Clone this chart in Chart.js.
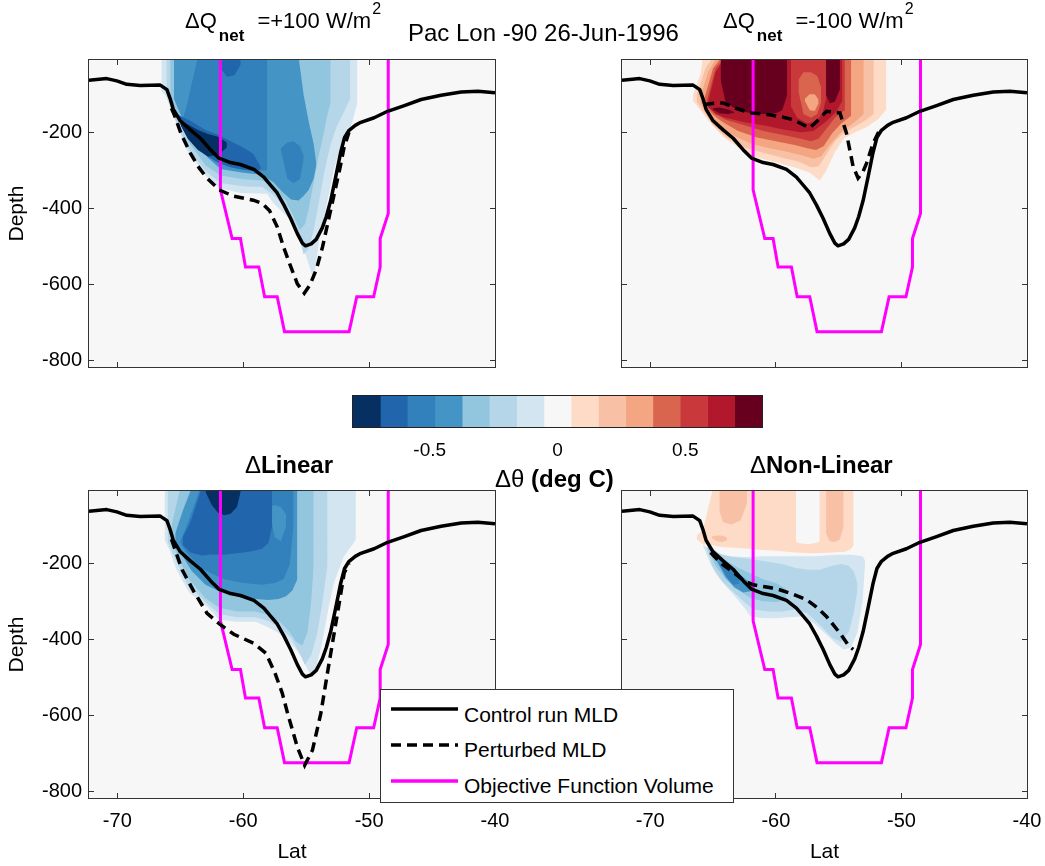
<!DOCTYPE html>
<html><head><meta charset="utf-8">
<script src="https://cdn.jsdelivr.net/npm/chart.js@4.4.1/dist/chart.umd.min.js"></script>
<style>
html,body{margin:0;padding:0;background:#fff;overflow:hidden;width:1045px;height:866px;}
canvas{position:absolute;}
.t{position:absolute;white-space:nowrap;font-family:'Liberation Sans',Arial,Helvetica,sans-serif;color:#000;line-height:1;}
</style></head><body>
<canvas id="tl" width="540" height="363" style="left:0px;top:30px"></canvas>
<canvas id="tr" width="540" height="363" style="left:533px;top:30px"></canvas>
<canvas id="bl" width="540" height="405" style="left:0px;top:461px"></canvas>
<canvas id="br" width="540" height="405" style="left:533px;top:461px"></canvas>
<canvas id="cb" width="520" height="130" style="left:300px;top:370px"></canvas>

<div class="t" style="left:185px;top:10px;font-size:22px">ΔQ<span style="font-size:17px;font-weight:bold;position:relative;top:13px;margin-left:2px;margin-right:7px">net</span> =+100 W/m<span style="font-size:16px;position:relative;top:-14px;margin-left:1px">2</span></div>
<div class="t" style="left:723px;top:10px;font-size:22px">ΔQ<span style="font-size:17px;font-weight:bold;position:relative;top:13px;margin-left:2px;margin-right:7px">net</span> =-100 W/m<span style="font-size:16px;position:relative;top:-14px;margin-left:1px">2</span></div>
<div class="t" style="left:408px;top:21px;font-size:24px">Pac Lon -90 26-Jun-1996</div>
<div class="t" style="left:245px;top:453px;font-size:24px">Δ<b>Linear</b></div>
<div class="t" style="left:750px;top:453px;font-size:24px">Δ<b>Non-Linear</b></div>
<div class="t" style="left:495px;top:467px;font-size:24px">Δθ<b> (deg C)</b></div>

<div style="position:absolute;left:380px;top:689px;width:354px;height:114px;box-sizing:border-box;border:1px solid #333;background:#fff;">
  <svg width="352" height="112" style="position:absolute;left:0;top:0">
    <line x1="10" y1="19" x2="77" y2="19" stroke="#000" stroke-width="3.5"/>
    <line x1="10" y1="55" x2="77" y2="55" stroke="#000" stroke-width="3.5" stroke-dasharray="10,6"/>
    <line x1="10" y1="91" x2="77" y2="91" stroke="#ff00ff" stroke-width="3.5"/>
  </svg>
  <div class="t" style="left:83px;top:14px;font-size:21px">Control run MLD</div>
  <div class="t" style="left:83px;top:49px;font-size:21px">Perturbed MLD</div>
  <div class="t" style="left:83px;top:85px;font-size:21px">Objective Function Volume</div>
</div>

<script>
// ---------- axis ticks ----------
const LAT_TICKS = [-70, -60, -50, -40];
const DEPTH_TICKS = [-800, -600, -400, -200];
const CBAR_TICKS = [-0.5, 0, 0.5];
const CBAR_EDGES = [-0.8,-0.693,-0.587,-0.48,-0.373,-0.267,-0.16,-0.053,0.053,0.16,0.267,0.373,0.48,0.587,0.693,0.8];
// contour level colours, levels -7 ... +7
const LEVEL_COLORS = ['#053061','#2166ac','#3280bc','#4494c6','#92c5de','#b5d6e9','#d2e5f0','#f7f7f7','#fddbc7','#f8c0a4','#f4a582','#d9654f','#c9393b','#b2182b','#67001f'];

// ---------- lines [lat, depth] ----------
const CONTROL_MLD = [[-72.25,-61],[-70.84,-57],[-70.04,-63],[-69.25,-72],[-68.18,-75],[-66.59,-74],[-66.06,-86],[-65.8,-110],[-65.55,-138],[-65.0,-168],[-64.2,-192],[-63.4,-214],[-62.61,-244],[-61.94,-266],[-61.01,-278],[-60.22,-283],[-59.15,-296],[-58.36,-316],[-57.83,-337],[-57.3,-358],[-56.76,-390],[-56.23,-425],[-55.7,-465],[-55.3,-490],[-55.05,-497],[-54.6,-492],[-54.2,-480],[-53.72,-450],[-53.4,-420],[-53.05,-378],[-52.65,-315],[-52.25,-250],[-51.95,-212],[-51.59,-193],[-51.1,-180],[-50.66,-172],[-49.6,-160],[-48.53,-143],[-47.2,-128],[-45.87,-112],[-44.28,-101],[-42.69,-92],[-41.36,-90],[-40,-94]];
const OBJ_VOLUME = [[-61.81,0],[-61.81,-350],[-60.88,-478],[-60.22,-478],[-59.82,-553],[-58.76,-553],[-58.3,-631],[-57.3,-631],[-56.72,-723],[-51.59,-723],[-50.98,-631],[-49.64,-631],[-49.12,-553],[-49.12,-478],[-48.48,-412],[-48.48,0]];
const PERT_TL = [[-65.7,-135],[-65.5,-150],[-64.9,-205],[-64.2,-253],[-63.5,-292],[-62.9,-318],[-61.9,-350],[-60.8,-366],[-59.2,-377],[-58.5,-385],[-57.9,-405],[-57.3,-447],[-56.8,-500],[-56.3,-545],[-55.7,-597],[-55.15,-622],[-54.7,-600],[-54.2,-560],[-53.7,-500],[-53.1,-410],[-52.7,-350],[-52.3,-290],[-52.0,-240],[-51.6,-198]];
const PERT_TR = [[-65.7,-125],[-64.9,-122],[-64.2,-121],[-63.2,-135],[-62.08,-147],[-60.49,-152],[-59.5,-158],[-58.63,-165],[-57.3,-187],[-56.6,-165],[-55.97,-143],[-54.9,-147],[-54.38,-200],[-53.85,-288],[-53.45,-319],[-53.1,-305],[-52.78,-280],[-52.25,-227],[-51.72,-191]];
const PERT_BL = [[-65.7,-135],[-65.5,-154],[-64.86,-215],[-63.93,-272],[-62.87,-330],[-61.81,-360],[-60.75,-385],[-59.15,-409],[-58.2,-435],[-57.5,-485],[-56.9,-540],[-56.5,-590],[-55.7,-682],[-55.12,-730],[-54.5,-690],[-53.84,-594],[-53.2,-465],[-52.51,-330],[-51.98,-224],[-51.6,-198]];
const PERT_BR = [[-65.2,-170],[-64.3,-200],[-63.67,-215],[-62.5,-245],[-61.8,-255],[-60.5,-262],[-59.7,-268],[-58.6,-280],[-57.56,-294],[-56.7,-315],[-55.97,-338],[-54.9,-382],[-54.2,-415],[-53.84,-425]];

// ---------- contour regions: [level, [[lat, upper depth, lower depth], ...]]  (0 = surface) ----------
const REG_TL = [
 [-1,[[-66.5,0,-90],[-66.2,0,-100],[-65.5,0,-156],[-64.5,0,-244],[-62.9,0,-315],[-61.8,0,-346],[-60.2,0,-358],[-58.1,0,-360],[-57.6,0,-385],[-56.2,0,-430],[-55.4,0,-483],[-54.9,0,-536],[-54.5,0,-575],[-54.3,0,-560],[-54.0,0,-490],[-53.7,0,-440],[-53.3,0,-377],[-52.8,0,-297],[-52.25,0,-235],[-51.5,0,-190],[-50.93,0,-121]]],
 [-2,[[-66.1,0,-100],[-65.6,0,-150],[-64.5,0,-235],[-63,0,-300],[-61.8,0,-332],[-60,0,-340],[-58.5,0,-342],[-57.5,0,-365],[-56.4,0,-410],[-55.7,0,-460],[-55.2,0,-520],[-54.8,0,-505],[-54.4,0,-455],[-54.0,0,-385],[-53.6,0,-310],[-53.1,0,-235],[-52.6,0,-185],[-52.0,0,-145],[-51.5,0,-110]]],
 [-3,[[-65.8,0,-105],[-65.2,0,-150],[-64.3,0,-225],[-63,0,-285],[-61.8,0,-312],[-60,0,-322],[-58.5,0,-325],[-57.5,0,-345],[-56.6,0,-380],[-56.0,0,-420],[-55.5,0,-455],[-55.1,0,-440],[-54.8,0,-400],[-54.4,0,-330],[-54.0,0,-260],[-53.6,0,-200],[-53.3,0,-150],[-53.05,0,-120]]],
 [-4,[[-65.5,0,-110],[-65.0,0,-150],[-64.0,0,-210],[-62.8,0,-265],[-61.8,0,-295],[-60,0,-305],[-58.5,0,-310],[-57.6,0,-330],[-56.9,0,-355],[-56.2,0,-375],[-55.6,0,-378],[-55.2,-100,-365],[-54.8,-170,-350],[-54.4,-230,-320],[-54.2,-280,-285]]],
 [-5,[[-64.9,-175,-180],[-64.5,-130,-200],[-63.6,0,-235],[-63.0,0,-258],[-62,0,-280],[-61,0,-290],[-60,0,-296],[-59,0,-300],[-58.1,0,-298]]],
 [-5,[[-57.0,-240,-245],[-56.5,-225,-320],[-56.0,-222,-332],[-55.5,-235,-322],[-55.2,-260,-268]]],
 [-6,[[-65.3,-150,-152],[-64.8,-158,-190],[-64,-172,-228],[-63,-192,-258],[-62,-205,-278],[-61,-222,-290],[-60,-238,-297],[-59.2,-255,-300],[-58.6,-290,-295]]],
 [-6,[[-61.8,0,-30],[-61.3,0,-52],[-60.7,0,-48],[-60.2,0,-20]]],
 [-7,[[-65.0,-172,-178],[-64.4,-178,-215],[-63.6,-192,-245],[-62.8,-203,-262],[-62.0,-210,-258],[-61.3,-225,-238]]]
];
const REG_TR = [
 [1,[[-66.6,-100,-115],[-66.0,-45,-140],[-65.8,0,-150],[-65.3,0,-170],[-64.2,0,-210],[-62.9,0,-240],[-61.8,0,-262],[-60,0,-278],[-58.5,0,-290],[-57.3,0,-305],[-56.5,0,-325],[-56.0,0,-300],[-55.3,0,-250],[-54.6,0,-215],[-53.8,0,-200],[-52.8,0,-185],[-51.9,0,-165],[-51.2,0,-138]]],
 [2,[[-66.3,-100,-118],[-65.6,-30,-150],[-65.0,0,-180],[-64,0,-210],[-62.5,0,-238],[-61,0,-252],[-59.5,0,-265],[-58.2,0,-275],[-57.2,0,-290],[-56.6,0,-288],[-56.0,0,-258],[-55.3,0,-222],[-54.6,0,-200],[-53.8,0,-185],[-53.0,0,-170],[-52.2,0,-150]]],
 [3,[[-66.0,-105,-120],[-65.4,-40,-150],[-64.7,0,-175],[-63.5,0,-205],[-62,0,-228],[-60.5,0,-240],[-59,0,-250],[-57.8,0,-260],[-57.0,0,-268],[-56.4,0,-262],[-55.8,0,-235],[-55.0,0,-205],[-54.3,0,-185],[-53.6,0,-168],[-53.0,0,-150]]],
 [4,[[-65.7,-110,-125],[-65.0,-30,-152],[-64.3,0,-170],[-63,0,-195],[-61.5,0,-212],[-60,0,-222],[-58.5,0,-232],[-57.5,0,-240],[-56.8,0,-245],[-56.2,0,-235],[-55.5,0,-200],[-54.8,0,-175],[-54.0,0,-155]]],
 [5,[[-65.5,-115,-128],[-64.8,-30,-150],[-64.0,0,-165],[-62.5,0,-180],[-61,0,-195],[-59.5,0,-205],[-58,0,-215],[-57.2,0,-222],[-56.6,0,-215],[-56.0,0,-190],[-55.3,0,-160],[-54.5,0,-140]]],
 [6,[[-65.4,-120,-132],[-64.8,-40,-150],[-64.0,0,-160],[-62.5,0,-172],[-61,0,-180],[-59.5,0,-190],[-58,0,-198],[-57,0,-195],[-56,0,-170],[-55.2,0,-145],[-54.7,0,-115]]],
 [5,[[-58.8,0,-130],[-58.3,0,-160],[-57.5,0,-175],[-56.8,0,-170],[-56.3,0,-150],[-56.0,0,-110]]],
 [4,[[-58.2,-60,-90],[-57.8,-40,-150],[-57.2,-40,-160],[-56.7,-50,-150],[-56.4,-80,-120]]],
 [3,[[-57.7,-110,-115],[-57.3,-98,-140],[-56.9,-98,-142],[-56.6,-112,-122]]],
 [7,[[-64.4,0,-60],[-64.0,0,-120],[-63,0,-140],[-62,0,-148],[-61,0,-150],[-60,0,-148],[-59.5,0,-140],[-59.1,0,-100]]],
 [7,[[-56.0,0,-100],[-55.7,0,-122],[-55.3,0,-118],[-54.9,0,-85]]],
 [7,[[-65.0,-135,-138],[-64.5,-133,-148],[-63.8,-138,-150],[-63.3,-145,-147]]]
];
const REG_BL = [
 [-1,[[-66.25,0,-136],[-65.9,0,-160],[-65.3,0,-215],[-64.3,0,-275],[-62.9,0,-312],[-61.9,0,-347],[-60.5,0,-352],[-59.0,0,-352],[-58.1,0,-365],[-57.3,0,-380],[-56.5,0,-400],[-55.8,0,-425],[-55.4,0,-444],[-55.0,0,-470],[-54.6,0,-497],[-54.2,0,-470],[-53.8,0,-418],[-53.2,0,-312],[-52.8,0,-250],[-52.0,0,-180],[-51.05,0,-136]]],
 [-2,[[-66.0,0,-140],[-65.5,0,-180],[-64.5,0,-250],[-63,0,-300],[-61.9,0,-332],[-60.5,0,-340],[-59,0,-340],[-58,0,-350],[-57,0,-370],[-56.2,0,-395],[-55.6,0,-430],[-55.1,0,-465],[-54.6,0,-440],[-54.1,0,-380],[-53.7,0,-300],[-53.3,0,-200]]],
 [-3,[[-65.7,-100,-140],[-65.0,0,-195],[-64.3,0,-240],[-63,0,-290],[-61.9,0,-315],[-60.5,0,-325],[-59,0,-325],[-58,0,-335],[-57,0,-355],[-56.3,0,-380],[-55.8,0,-405],[-55.3,0,-415],[-54.9,0,-380],[-54.6,0,-300],[-54.4,0,-200]]],
 [-4,[[-65.4,-120,-140],[-64.8,-60,-180],[-64.1,0,-218],[-63,0,-255],[-61.9,0,-272],[-60.5,0,-285],[-59,0,-292],[-58,0,-295],[-57.2,0,-292],[-56.6,0,-285],[-56.1,0,-270],[-55.7,0,-240]]],
 [-5,[[-65.0,-140,-145],[-64.5,-100,-170],[-63.4,0,-210],[-62.5,0,-225],[-61.5,0,-240],[-60,0,-250],[-58.5,0,-255],[-57.5,0,-250],[-56.8,0,-240],[-56.3,0,-200],[-56.0,0,-100]]],
 [-4,[[-57.9,-50,-60],[-57.5,-45,-130],[-57.0,-50,-140],[-56.6,-70,-100]]],
 [-6,[[-64.8,-130,-150],[-64.2,-90,-170],[-63.3,0,-178],[-62.5,0,-175],[-61.5,0,-176],[-60.5,0,-172],[-59.5,0,-168],[-58.5,0,-160],[-58.0,0,-145],[-57.7,0,-100]]],
 [-7,[[-63.0,0,-10],[-62.5,0,-45],[-62.0,0,-65],[-61.5,0,-72],[-61.0,0,-68],[-60.5,0,-50],[-60.2,0,-10]]]
];
const REG_BR = [
 [1,[[-66.3,-125,-135],[-65.8,-110,-148],[-65.0,0,-150],[-64.5,0,-155],[-63,0,-158],[-61.5,0,-162],[-60,0,-165],[-58.5,0,-170],[-57,0,-172],[-55.5,0,-170],[-54.5,0,-168],[-54.0,0,-160],[-53.8,0,-150]]],
 [0,[[-58.4,0,-140],[-58.2,0,-145],[-57.5,0,-148],[-56.8,0,-145],[-56.5,0,-140]]],
 [2,[[-64.5,0,-60],[-64.2,0,-90],[-63.5,0,-96],[-62.8,0,-85],[-62.3,0,-40]]],
 [2,[[-56.0,0,-120],[-55.7,0,-140],[-55.3,0,-142],[-54.9,0,-135],[-54.6,0,-100]]],
 [2,[[-65.1,-128,-132],[-64.7,-125,-140],[-64.3,-125,-142],[-63.9,-130,-138]]],
 [-1,[[-65.8,-150,-152],[-65.2,-160,-200],[-64.7,-170,-230],[-64.0,-178,-258],[-63.4,-180,-280],[-62.5,-182,-315],[-62.0,-182,-338],[-61.0,-180,-343],[-60,-180,-343],[-59,-180,-340],[-58,-180,-338],[-57,-180,-355],[-56.0,-178,-385],[-55.2,-176,-410],[-54.6,-176,-425],[-54.0,-176,-420],[-53.5,-178,-380],[-53.1,-180,-300],[-52.9,-190,-200]]],
 [-2,[[-65.5,-155,-160],[-65.0,-165,-210],[-64.3,-175,-245],[-63.5,-182,-270],[-62.5,-185,-300],[-61.8,-188,-320],[-60.5,-195,-325],[-59.5,-200,-325],[-58.5,-210,-320],[-57.5,-215,-330],[-56.5,-215,-360],[-55.5,-205,-395],[-54.8,-200,-405],[-54.2,-205,-380],[-53.8,-220,-330],[-53.5,-250,-270]]],
 [-3,[[-65.4,-150,-160],[-64.8,-165,-205],[-64,-190,-240],[-63,-210,-268],[-62,-225,-290],[-61,-240,-298],[-60,-250,-300],[-59.2,-265,-295]]],
 [-4,[[-65.0,-165,-175],[-64.5,-180,-205],[-64,-200,-235],[-63.3,-215,-262],[-62.6,-235,-275],[-62.0,-250,-272]]],
 [-5,[[-64.5,-195,-200],[-64.0,-205,-230],[-63.4,-220,-255],[-62.9,-240,-252]]]
];

// ---------- rendering ----------
const FONT = "'Liberation Sans', Arial, Helvetica, sans-serif";
const xy = arr => arr.map(p => ({x: p[0], y: p[1]}));

const framePlugin = {
  id: 'frame',
  beforeDraw(chart, args, opts) {
    if (!opts.bg) return;
    const {ctx, chartArea: a} = chart;
    ctx.save(); ctx.fillStyle = opts.bg;
    ctx.fillRect(a.left, a.top, a.right - a.left, a.bottom - a.top);
    ctx.restore();
  },
  afterDraw(chart, args, opts) {
    const {ctx, chartArea: a} = chart;
    ctx.save(); ctx.strokeStyle = opts.color || '#333'; ctx.lineWidth = 1;
    ctx.strokeRect(Math.round(a.left) - 0.5, Math.round(a.top) - 0.5, Math.round(a.right - a.left) + 1, Math.round(a.bottom - a.top) + 1);
    ctx.restore();
  }
};

function panelDatasets(regions, pert) {
  const ds = [];
  regions.forEach(([lev, pts]) => {
    const col = LEVEL_COLORS[lev + 7];
    ds.push({data: pts.map(p => ({x: p[0], y: p[1]})), fill: '+1', backgroundColor: col, borderColor: 'rgba(0,0,0,0)', borderWidth: 0, pointRadius: 0});
    ds.push({data: pts.map(p => ({x: p[0], y: p[2]})), fill: false, borderColor: 'rgba(0,0,0,0)', borderWidth: 0, pointRadius: 0});
  });
  ds.push({data: xy(OBJ_VOLUME), borderColor: '#ff00ff', borderWidth: 3, fill: false, pointRadius: 0, borderJoinStyle: 'miter'});
  ds.push({data: xy(CONTROL_MLD), borderColor: '#000', borderWidth: 3.5, fill: false, pointRadius: 0, borderJoinStyle: 'round'});
  ds.push({data: xy(pert), borderColor: '#000', borderWidth: 3.5, borderDash: [10, 6], fill: false, pointRadius: 0});
  const n = ds.length;
  ds.forEach((d, i) => { d.order = n - i; });
  return ds;
}

function makePanel(id, regions, pert, cfg) {
  const tickColor = '#333';
  const setX = s => { s.ticks = LAT_TICKS.map(v => ({value: v})); };
  const setY = s => { s.ticks = DEPTH_TICKS.map(v => ({value: v})); };
  const gridOpt = {drawOnChartArea: false, drawTicks: true, tickLength: -5, tickColor: tickColor, lineWidth: 1};
  new Chart(document.getElementById(id), {
    type: 'line',
    data: {datasets: panelDatasets(regions, pert)},
    options: {
      responsive: false, animation: false, events: [],
      layout: {padding: cfg.padding},
      plugins: {legend: {display: false}, tooltip: {enabled: false}, frame: {bg: '#f7f7f7', color: '#333'}},
      scales: {
        x: {type: 'linear', position: 'bottom', min: -72.25, max: -40, z: 1,
            afterBuildTicks: setX, afterFit: s => { s.height = cfg.xh; },
            grid: gridOpt, border: {display: false},
            ticks: {display: cfg.xLabels, padding: 16.5, color: '#000', font: {family: FONT, size: 20}, maxRotation: 0, autoSkip: false, callback: v => String(v)},
            title: {display: cfg.xLabels, text: 'Lat', color: '#000', font: {family: FONT, size: 21}, padding: {top: 0, bottom: 1.4}}},
        x2: {type: 'linear', position: 'top', min: -72.25, max: -40, z: 1,
            afterBuildTicks: setX, afterFit: s => { s.height = 0; },
            grid: gridOpt, border: {display: false}, ticks: {display: false}},
        y: {type: 'linear', position: 'left', min: -816, max: -8, z: 1,
            afterBuildTicks: setY, afterFit: s => { s.width = 89; },
            grid: gridOpt, border: {display: false},
            ticks: {display: cfg.yLabels, padding: 12, color: '#000', font: {family: FONT, size: 20}, autoSkip: false, callback: v => String(v)},
            title: {display: cfg.yLabels, text: 'Depth', color: '#000', font: {family: FONT, size: 21}, padding: {top: 4.4, bottom: 0}}},
        y2: {type: 'linear', position: 'right', min: -816, max: -8, z: 1,
            afterBuildTicks: setY, afterFit: s => { s.width = 0; },
            grid: gridOpt, border: {display: false}, ticks: {display: false}}
      }
    },
    plugins: [framePlugin]
  });
}

makePanel('tl', REG_TL, PERT_TL, {padding: {top: 30, right: 45, bottom: 0, left: 0}, xh: 26, xLabels: false, yLabels: true});
makePanel('tr', REG_TR, PERT_TR, {padding: {top: 30, right: 46, bottom: 0, left: 0}, xh: 26, xLabels: false, yLabels: false});
makePanel('bl', REG_BL, PERT_BL, {padding: {top: 30, right: 45, bottom: 0, left: 0}, xh: 68, xLabels: true, yLabels: true});
makePanel('br', REG_BR, PERT_BR, {padding: {top: 30, right: 46, bottom: 0, left: 0}, xh: 68, xLabels: true, yLabels: false});

// colour bar
(function () {
  const setT = s => { s.ticks = CBAR_TICKS.map(v => ({value: v})); };
  const gridOpt = {drawOnChartArea: false, drawTicks: true, tickLength: -5, tickColor: '#222', lineWidth: 1};
  new Chart(document.getElementById('cb'), {
    type: 'bar',
    data: {labels: [''], datasets: LEVEL_COLORS.map((c, i) => ({data: [[CBAR_EDGES[i], CBAR_EDGES[i + 1]]], backgroundColor: c, borderWidth: 0, barPercentage: 1, categoryPercentage: 1, grouped: false}))},
    options: {
      indexAxis: 'y', responsive: false, animation: false, events: [],
      layout: {padding: {left: 53, right: 58, top: 26, bottom: 0}},
      plugins: {legend: {display: false}, tooltip: {enabled: false}, frame: {bg: null, color: '#222'}},
      scales: {
        x: {type: 'linear', position: 'bottom', min: -0.8, max: 0.8, z: 1,
            afterBuildTicks: setT, afterFit: s => { s.height = 73; },
            grid: gridOpt, border: {display: false},
            ticks: {padding: 17.6, color: '#000', font: {family: FONT, size: 19}, autoSkip: false, maxRotation: 0, callback: v => String(v)}},
        x2: {type: 'linear', position: 'top', min: -0.8, max: 0.8, z: 1,
            afterBuildTicks: setT, afterFit: s => { s.height = 0; },
            grid: gridOpt, border: {display: false}, ticks: {display: false}},
        y: {display: false}
      }
    },
    plugins: [framePlugin]
  });
})();
</script>
</body></html>
